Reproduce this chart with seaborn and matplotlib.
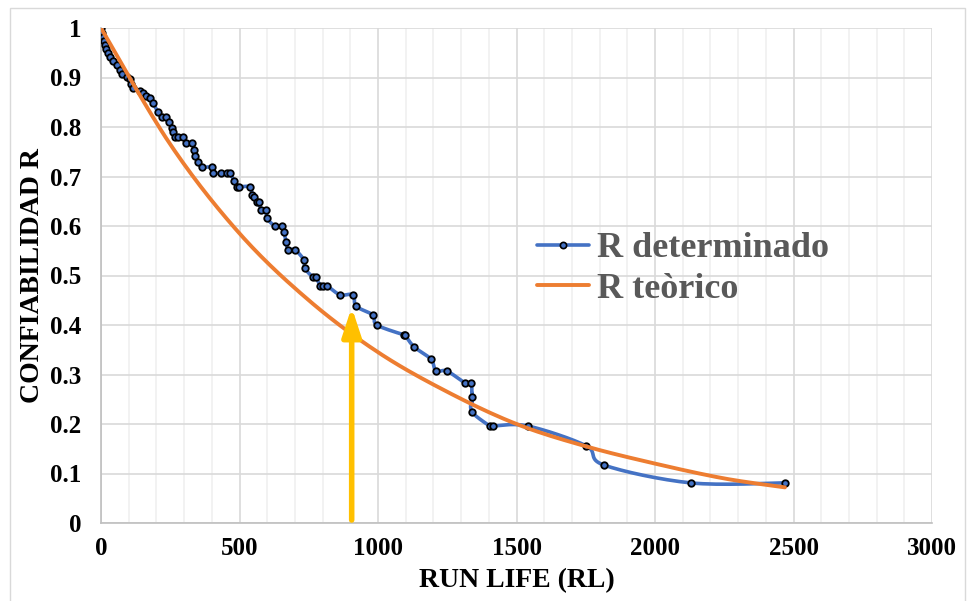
import numpy as np
import pandas as pd
import matplotlib
matplotlib.use("Agg")
import matplotlib.pyplot as plt
from matplotlib.patches import Rectangle
from matplotlib.lines import Line2D
import seaborn as sns

# ---- data ----
run_life = [0, 4, 7, 11, 14, 18, 25, 32, 43, 58, 69, 76, 94, 105, 108, 116, 141, 152, 162, 177,
            188, 206, 220, 235, 245, 256, 260, 267, 278, 296, 307, 329, 336, 339, 350, 365, 401,
            404, 433, 455, 466, 480, 491, 498, 538, 545, 552, 563, 570, 578, 596, 599, 628, 653,
            661, 668, 675, 700, 733, 735, 765, 776, 791, 801, 816, 863, 910, 921, 982, 996, 1094,
            1097, 1130, 1191, 1209, 1249, 1314, 1336, 1339, 1339, 1404, 1415, 1541, 1751, 1816,
            2130, 2469]
r_determinado = [1.0, 0.99, 0.982, 0.974, 0.966, 0.958, 0.949, 0.941, 0.933, 0.925, 0.915, 0.907,
                 0.901, 0.897, 0.887, 0.879, 0.873, 0.869, 0.863, 0.859, 0.848, 0.830, 0.820, 0.820,
                 0.810, 0.798, 0.790, 0.780, 0.780, 0.780, 0.768, 0.768, 0.754, 0.741, 0.729, 0.719,
                 0.719, 0.707, 0.707, 0.707, 0.707, 0.691, 0.679, 0.679, 0.679, 0.663, 0.659, 0.648,
                 0.648, 0.632, 0.632, 0.616, 0.600, 0.600, 0.588, 0.568, 0.552, 0.552, 0.531, 0.515,
                 0.497, 0.497, 0.479, 0.479, 0.479, 0.461, 0.461, 0.438, 0.420, 0.400, 0.380, 0.380,
                 0.356, 0.331, 0.307, 0.307, 0.283, 0.283, 0.255, 0.225, 0.196, 0.196, 0.196, 0.156,
                 0.117, 0.081, 0.081]

teorico_x = [0, 250, 500, 750, 1000, 1250, 1500, 1750, 2000, 2250, 2469]
teorico_r = [1.0, 0.765, 0.585, 0.45, 0.345, 0.265, 0.2, 0.155, 0.12, 0.09, 0.072]

arrow_x = 905
arrow_top = 0.436

x_ticks = [0, 500, 1000, 1500, 2000, 2500, 3000]
y_ticks = [0, 0.1, 0.2, 0.3, 0.4, 0.5, 0.6, 0.7, 0.8, 0.9, 1.0]
y_ticklabels = ["0", "0.1", "0.2", "0.3", "0.4", "0.5", "0.6", "0.7", "0.8", "0.9", "1"]

label_det = "R determinado"
label_teo = "R teòrico"
xlabel = "RUN LIFE (RL)"
ylabel = "CONFIABILIDAD R"

# ---- styling ----
sns.set_theme(style="white")
plt.rcParams["font.family"] = ["Liberation Serif", "DejaVu Serif"]
plt.rcParams["font.weight"] = "bold"

BLUE = "#4472C4"
ORANGE = "#ED7D31"
GOLD = "#FFC000"

W, H = 967, 601
fig = plt.figure(figsize=(W / 100, H / 100), dpi=100)
ax = fig.add_axes([101 / W, 1 - 523 / H, (932 - 101) / W, (523 - 28) / H])


def smooth(xs, ys, n=16):
    """Excel-like smoothed line (Catmull-Rom Bezier) in screen-proportional space."""
    sx, sy = 831 / 3000.0, 495.0
    P = np.column_stack([np.asarray(xs, float) * sx, np.asarray(ys, float) * sy])
    out = [P[0]]
    m = len(P)
    t = np.linspace(0, 1, n + 1)[1:][:, None]
    for i in range(m - 1):
        p0 = P[i - 1] if i > 0 else P[i]
        p1, p2 = P[i], P[i + 1]
        p3 = P[i + 2] if i + 2 < m else P[i + 1]
        c1 = p1 + (p2 - p0) / 6.0
        c2 = p2 - (p3 - p1) / 6.0
        seg = ((1 - t) ** 3) * p1 + 3 * ((1 - t) ** 2) * t * c1 + 3 * (1 - t) * t ** 2 * c2 + t ** 3 * p2
        out.extend(seg)
    out = np.array(out)
    return out[:, 0] / sx, out[:, 1] / sy


df_det = pd.DataFrame({"RL": run_life, "R": r_determinado})
df_teo = pd.DataFrame({"RL": teorico_x, "R": teorico_r})

# grid
ax.set_xlim(0, 3000)
ax.set_ylim(0, 1)
ax.set_xticks(x_ticks)
ax.set_xticks(np.arange(0, 3001, 100), minor=True)
ax.set_yticks(y_ticks)
ax.set_yticklabels(y_ticklabels)
ax.grid(which="minor", axis="x", color="#f0f0f0", lw=1.2, zorder=0)
ax.grid(which="major", axis="x", color="#d9d9d9", lw=1.2, zorder=0)
ax.grid(which="major", axis="y", color="#d9d9d9", lw=1.2, zorder=0)
ax.set_axisbelow(True)

# smoothed blue line
bx, by = smooth(df_det["RL"], df_det["R"])
sns.lineplot(x=bx, y=by, sort=False, color=BLUE, lw=2.6, ax=ax, zorder=3)
# markers
sns.scatterplot(data=df_det, x="RL", y="R", s=22, color=BLUE, edgecolor="black",
                linewidth=1.3, ax=ax, zorder=4)

# theoretical curve
ox, oy = smooth(df_teo["RL"], df_teo["R"])
sns.lineplot(x=ox, y=oy, sort=False, color=ORANGE, lw=2.8, ax=ax, zorder=5)

# arrow
ax.annotate("", xy=(arrow_x, arrow_top), xytext=(arrow_x, 0.006),
            arrowprops=dict(arrowstyle="-|>,head_length=0.85,head_width=0.28",
                            color=GOLD, lw=4, mutation_scale=20, shrinkA=0, shrinkB=0),
            zorder=6)

for s in ["top", "right"]:
    ax.spines[s].set_visible(False)
for s in ["left", "bottom"]:
    ax.spines[s].set_color("#bfbfbf")
    ax.spines[s].set_linewidth(1.2)

ax.tick_params(axis="both", length=0, labelsize=18)
ax.tick_params(axis="y", pad=14)
ax.tick_params(axis="x", pad=10)
for lab in ax.get_xticklabels() + ax.get_yticklabels():
    lab.set_fontweight("bold")
    lab.set_color("black")

ax.set_xlabel(xlabel, fontsize=20, fontweight="bold", color="black", labelpad=6)
ax.set_ylabel(ylabel, fontsize=20, fontweight="bold", color="black", labelpad=4)

# legend
handles = [Line2D([], [], color=BLUE, lw=2.6, marker="o", markersize=4.5,
                  markerfacecolor=BLUE, markeredgecolor="black", markeredgewidth=1.2),
           Line2D([], [], color=ORANGE, lw=2.8)]
leg = ax.legend(handles, [label_det, label_teo], loc="upper left",
                bbox_to_anchor=(537 / W, 1 - 232 / H), bbox_transform=fig.transFigure,
                frameon=False, borderpad=0, borderaxespad=0, handlelength=1.45,
                handletextpad=0.2, labelspacing=0.2,
                prop={"family": ["Liberation Serif"], "weight": "bold", "size": 26})
for t in leg.get_texts():
    t.set_color("#595959")

# chart border
fig.patches.append(Rectangle((10 / W, -0.01), (965 - 10) / W, 1.01 - 8 / H, fill=False,
                             edgecolor="#d9d9d9", lw=1, transform=fig.transFigure))

fig.savefig("out.png", dpi=100)
